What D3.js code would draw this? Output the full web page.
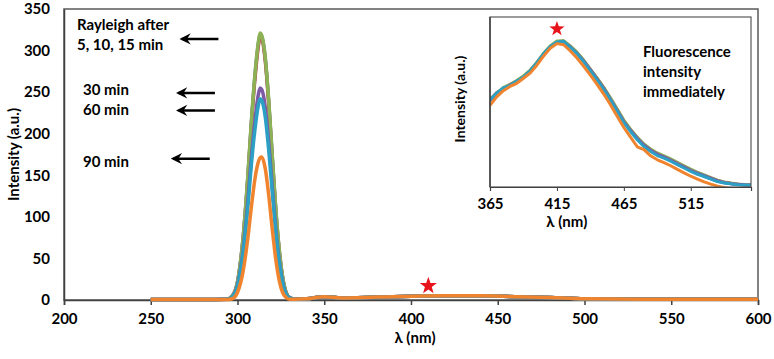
<!DOCTYPE html>
<html>
<head>
<meta charset="utf-8">
<script src="https://cdn.jsdelivr.net/npm/d3@7"></script>
<style>
  body { margin: 0; background: #fff; }
  svg { font-family: Lato, "Open Sans", sans-serif; font-weight: bold; }
</style>
</head>
<body>
<div id="container"></div>
<script>
const canvasWidth = 774;
const canvasHeight = 359;

// main spectra, wavelength (nm) -> intensity (a.u.)
let mainX = [250, 280, 294, 297, 300, 303, 306, 308, 310, 312, 313, 314, 316, 318, 320, 322, 324, 326, 328, 330, 333, 340, 350, 360, 380, 400, 420, 440, 460, 480, 500, 550, 600];

let min5  = [0.5, 0.5, 1, 5, 22, 70, 149, 213, 268, 308, 319, 317, 290, 238, 173, 110, 61, 27, 9, 3, 1, 1.5, 4, 2.5, 3.5, 4.5, 5, 5, 4, 3, 1.5, 1, 1];
let min10 = [0.5, 0.5, 1, 5, 21, 69, 147, 211, 265, 305, 316, 314, 288, 236, 171, 109, 60, 27, 9, 3, 1, 1.5, 4, 2.5, 3.5, 4.5, 5, 5, 4, 3, 1.5, 1, 1];
let min15 = [0.5, 0.5, 1, 5, 22, 70, 150, 215, 270, 310, 321, 318, 292, 240, 175, 112, 62, 28, 9, 3, 1, 1.5, 4, 2.5, 3.5, 4.5, 5, 5, 4, 3, 1.5, 1, 1];
let min30 = [0.5, 0.5, 1, 4, 18, 56, 120, 172, 215, 247, 255, 253, 232, 190, 138, 88, 48, 22, 7, 2.5, 1, 1.5, 4, 2.5, 3.5, 4.5, 5, 5, 4, 3, 1.5, 1, 1];
let min60 = [0.5, 0.5, 1, 4, 17, 53, 113, 163, 204, 234, 242, 240, 220, 180, 131, 83, 46, 21, 7, 2.5, 1, 1.5, 4, 2.5, 3.5, 4.5, 5, 5, 4, 3, 1.5, 1, 1];
let min90 = [0.5, 0.5, 0.5, 1.5, 9, 32, 75, 112, 145, 166, 171, 172, 158, 126, 86, 50, 24, 9, 3, 1, 1, 1.5, 4, 2.5, 3.5, 4.5, 5, 5, 4, 3, 1.5, 1, 1];

// inset: fluorescence band, every 5 nm from 365 to 560
let insetX = [365, 370, 375, 380, 385, 390, 395, 400, 405, 410, 415, 420, 425, 430, 435, 440, 445, 450, 455, 460, 465, 470, 475, 480, 485, 490, 495, 500, 505, 510, 515, 520, 525, 530, 535, 540, 545, 550, 555, 560];

let fl5  = [4.06, 4.30, 4.49, 4.60, 4.72, 4.88, 5.09, 5.37, 5.68, 5.95, 6.11, 6.13, 5.94, 5.71, 5.44, 5.12, 4.80, 4.46, 4.09, 3.69, 3.29, 2.98, 2.70, 2.46, 2.28, 2.14, 2.04, 1.93, 1.81, 1.69, 1.57, 1.47, 1.38, 1.29, 1.20, 1.15, 1.11, 1.09, 1.07, 1.06];
let fl10 = [4.08, 4.33, 4.47, 4.62, 4.75, 4.90, 5.11, 5.39, 5.70, 5.97, 6.13, 6.15, 5.96, 5.74, 5.46, 5.14, 4.83, 4.50, 4.12, 3.73, 3.33, 3.02, 2.74, 2.50, 2.32, 2.18, 2.08, 1.97, 1.85, 1.73, 1.61, 1.50, 1.41, 1.32, 1.23, 1.17, 1.13, 1.10, 1.08, 1.07];
let fl15 = [4.10, 4.30, 4.52, 4.62, 4.76, 4.92, 5.12, 5.40, 5.72, 5.98, 6.15, 6.16, 5.98, 5.76, 5.48, 5.16, 4.85, 4.52, 4.15, 3.76, 3.36, 3.04, 2.76, 2.52, 2.34, 2.20, 2.10, 1.99, 1.87, 1.75, 1.63, 1.52, 1.43, 1.33, 1.24, 1.18, 1.14, 1.11, 1.09, 1.08];
let fl30 = [4.05, 4.28, 4.46, 4.60, 4.70, 4.86, 5.08, 5.36, 5.66, 5.92, 6.10, 6.12, 5.95, 5.72, 5.45, 5.14, 4.82, 4.48, 4.10, 3.71, 3.31, 3.00, 2.72, 2.48, 2.30, 2.16, 2.06, 1.95, 1.83, 1.71, 1.59, 1.49, 1.40, 1.31, 1.22, 1.16, 1.12, 1.10, 1.08, 1.07];
let fl60 = [4.07, 4.32, 4.50, 4.58, 4.74, 4.88, 5.10, 5.38, 5.70, 5.96, 6.12, 6.14, 5.93, 5.70, 5.42, 5.10, 4.78, 4.44, 4.07, 3.67, 3.27, 2.96, 2.67, 2.43, 2.25, 2.11, 2.02, 1.91, 1.79, 1.67, 1.55, 1.45, 1.37, 1.28, 1.19, 1.14, 1.11, 1.08, 1.07, 1.06];
let fl90 = [3.88, 4.18, 4.40, 4.55, 4.66, 4.84, 5.02, 5.30, 5.62, 5.90, 6.06, 6.02, 5.80, 5.55, 5.26, 4.95, 4.62, 4.28, 3.90, 3.50, 3.10, 2.76, 2.42, 2.32, 2.10, 1.96, 1.86, 1.75, 1.62, 1.50, 1.38, 1.28, 1.18, 1.10, 1.03, 0.98, 0.94, 0.92, 0.90, 0.89];

let seriesNames = ['5 min', '10 min', '15 min', '30 min', '60 min', '90 min'];
let mainValues = [min5, min10, min15, min30, min60, min90];
let insetValues = [fl5, fl10, fl15, fl30, fl60, fl90];

// excel-ish series colors
let sc = ['#4f81bd', '#c0504d', '#8db256', '#7f5ba6', '#2ba0c4', '#f0842e'];

let xTicks = [200, 250, 300, 350, 400, 450, 500, 550, 600];
let yTicks = [0, 50, 100, 150, 200, 250, 300, 350];
let insetTicks = [365, 415, 465, 515];

// arrow labels: text lines, peak height they point at
let notes = [
  {lines: ['Rayleigh after', '5, 10, 15 min'], peak: 314, from: 289, to: 268},
  {lines: ['30 min'], peak: 249, from: 287, to: 266},
  {lines: ['60 min'], peak: 228, from: 287, to: 266},
  {lines: ['90 min'], peak: 170, from: 284, to: 263}
];

let margin = {left: 64, right: 16, top: 9, bottom: 59};
let plotW = canvasWidth - margin.left - margin.right;
let plotH = canvasHeight - margin.top - margin.bottom;

let svg = d3.select('#container')
  .append('svg')
  .attr('width', canvasWidth)
  .attr('height', canvasHeight);

svg.append('defs').append('marker')
  .attr('id', 'head')
  .attr('viewBox', '0 0 10 10')
  .attr('refX', 8).attr('refY', 5)
  .attr('markerWidth', 5).attr('markerHeight', 5)
  .attr('orient', 'auto')
  .append('path')
  .attr('d', 'M10,5 L1,0.5 L4,5 L1,9.5 Z')
  .attr('fill', '#000');

let viz = svg.append('g')
  .attr('transform', 'translate(' + margin.left + ',' + margin.top + ')');

let x = d3.scaleLinear().domain([200, 600]).range([0, plotW]);
let y = d3.scaleLinear().domain([0, 350]).range([plotH, 0]);

// frame
viz.append('rect')
  .attr('width', plotW).attr('height', plotH)
  .attr('fill', 'none').attr('stroke', '#595959').attr('stroke-width', 1.5);

let xAxis = viz.append('g')
  .attr('transform', 'translate(0,' + plotH + ')')
  .call(d3.axisBottom(x).tickValues(xTicks).tickSize(5).tickPadding(8));
xAxis.select('.domain').attr('stroke', '#404040').attr('stroke-width', 1.5);
xAxis.selectAll('.tick line').attr('stroke', '#404040').attr('stroke-width', 1.5);
xAxis.selectAll('text').attr('font-size', 15).attr('font-family', 'Lato').attr('font-weight', 'bold').attr('fill', '#000');

let yAxis = viz.append('g')
  .call(d3.axisLeft(y).tickValues(yTicks).tickSize(0).tickPadding(14));
yAxis.select('.domain').attr('stroke', '#404040').attr('stroke-width', 1.5);
yAxis.selectAll('text').attr('font-size', 15).attr('font-family', 'Lato').attr('font-weight', 'bold').attr('fill', '#000');

svg.append('text')
  .attr('transform', 'translate(14,' + (margin.top + plotH / 2) + ') rotate(-90)')
  .attr('text-anchor', 'middle').attr('dy', '0.35em')
  .attr('font-size', 15)
  .text('Intensity (a.u.)');

svg.append('text')
  .attr('x', margin.left + plotW / 2 + 4).attr('y', 338)
  .attr('text-anchor', 'middle').attr('dy', '0.35em')
  .attr('font-size', 15)
  .text('λ (nm)');

// curves
let mainLine = d3.line()
  .x(function(d) { return x(d[0]); })
  .y(function(d) { return y(d[1]); })
  .curve(d3.curveMonotoneX);

mainValues.forEach(function(vals, i) {
  let pts = mainX.map(function(v, j) { return [v, vals[j]]; });
  viz.append('path')
    .datum(pts)
    .attr('d', mainLine)
    .attr('fill', 'none')
    .attr('stroke', sc[i])
    .attr('stroke-width', 3.5)
    .attr('stroke-linejoin', 'round');
});

// arrows and their text
notes.forEach(function(n) {
  let yy = y(n.peak);
  viz.append('line')
    .attr('x1', x(n.from)).attr('x2', x(n.to))
    .attr('y1', yy).attr('y2', yy)
    .attr('stroke', '#000').attr('stroke-width', 2.5)
    .attr('marker-end', 'url(#head)');
});

let labelX = [13, 19, 19, 19];
let labelY = [16, 81, 101, 153];
notes.forEach(function(n, i) {
  n.lines.forEach(function(t, k) {
    viz.append('text')
      .attr('x', labelX[i]).attr('y', labelY[i] + k * 20)
      .attr('dy', '0.35em')
      .attr('font-size', 15)
      .text(t);
  });
});

// star on the fluorescence band
function star(g, cx, cy, r) {
  let pts = d3.range(10).map(function(k) {
    let a = -Math.PI / 2 + k * Math.PI / 5;
    let rr = k % 2 == 0 ? r : r * 0.4;
    return [cx + rr * Math.cos(a), cy + rr * Math.sin(a)];
  });
  g.append('polygon')
    .attr('points', pts.map(function(p) { return p.join(','); }).join(' '))
    .attr('fill', '#e8141b');
}
star(viz, x(410), y(17), 9);

// inset
let inset = {left: 490, top: 17, w: 261, h: 170};
let ig = svg.append('g')
  .attr('transform', 'translate(' + inset.left + ',' + inset.top + ')');

let ix = d3.scaleLinear().domain([365, 560]).range([0, inset.w]);
let iy = d3.scaleLinear().domain([1, 7]).range([inset.h, 0]);

ig.append('clipPath').attr('id', 'iclip')
  .append('rect').attr('width', inset.w).attr('height', inset.h);

let insetLine = d3.line()
  .x(function(d) { return ix(d[0]); })
  .y(function(d) { return iy(d[1]); });

let curves = ig.append('g').attr('clip-path', 'url(#iclip)');
insetValues.forEach(function(vals, i) {
  let pts = insetX.map(function(v, j) { return [v, vals[j]]; });
  curves.append('path')
    .datum(pts)
    .attr('d', insetLine)
    .attr('fill', 'none')
    .attr('stroke', sc[i])
    .attr('stroke-width', 3)
    .attr('stroke-linejoin', 'round');
});

ig.append('rect')
  .attr('width', inset.w).attr('height', inset.h)
  .attr('fill', 'none').attr('stroke', '#595959').attr('stroke-width', 1.2);

let ixAxis = ig.append('g')
  .attr('transform', 'translate(0,' + inset.h + ')')
  .call(d3.axisBottom(ix).tickValues(insetTicks).tickSize(4).tickPadding(7));
ixAxis.select('.domain').attr('stroke', '#404040').attr('stroke-width', 1.2);
ixAxis.selectAll('.tick line').attr('stroke', '#404040');
ixAxis.selectAll('text').attr('font-size', 15).attr('font-family', 'Lato').attr('font-weight', 'bold').attr('fill', '#000');

ig.append('line')
  .attr('y1', 0).attr('y2', inset.h)
  .attr('stroke', '#404040').attr('stroke-width', 1.5);

ig.append('text')
  .attr('x', ix(415) + 10).attr('y', 205)
  .attr('text-anchor', 'middle').attr('dy', '0.35em')
  .attr('font-size', 15)
  .text('λ (nm)');

ig.append('text')
  .attr('transform', 'translate(-30,' + (inset.h / 2 - 3) + ') rotate(-90)')
  .attr('text-anchor', 'middle').attr('dy', '0.35em')
  .attr('font-size', 14)
  .text('Intensity (a.u.)');

let flText = ['Fluorescence', 'intensity', 'immediately'];
flText.forEach(function(t, k) {
  ig.append('text')
    .attr('x', 153).attr('y', 35 + k * 20)
    .attr('dy', '0.35em')
    .attr('font-size', 15)
    .text(t);
});

star(ig, ix(415), iy(6.58), 8);
</script>
</body>
</html>
